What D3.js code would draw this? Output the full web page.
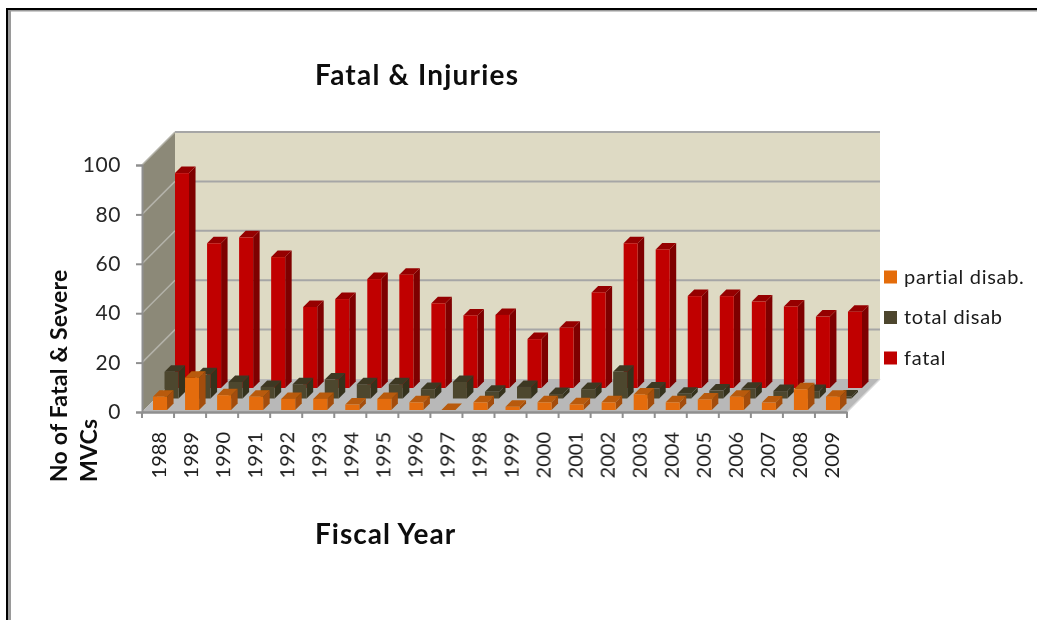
<!DOCTYPE html>
<html><head><meta charset="utf-8">
<script src="https://cdn.jsdelivr.net/npm/d3@7"></script>
<style>html,body{margin:0;padding:0;background:#fff}svg{display:block}text{font-family:Lato,"Open Sans",sans-serif}</style>
</head><body><svg id="c" width="1037" height="620"></svg>
<script>
const years = ["1988","1989","1990","1991","1992","1993","1994","1995","1996","1997","1998","1999","2000","2001","2002","2003","2004","2005","2006","2007","2008","2009"];
const fatal = [87,58.6,61,53,32.8,36,44.1,45.9,34.3,29.4,29.6,19.8,24.4,38.7,58.6,56.1,37.2,37.2,35,33,28.9,30.9];
const totalDisab = [10.8,9.8,6.7,4.7,5.8,7.7,5.8,5.8,3.8,6.7,2.7,4.7,1.8,3.8,10.8,4,1.9,3.2,3.9,3,3,0.8];
const partialDisab = [5.4,13.1,6,5.4,4.5,4.5,2.2,4.5,3.1,0,3.1,1.3,3.1,2.3,3.1,6.3,3.1,4.3,5.4,3,8.4,5.4];
const yTicks = [0,20,40,60,80,100];
const seriesNames = ["partial disab.","total disab","fatal"];
const seriesValues = [partialDisab,totalDisab,fatal];
const faceColors = ["#e46c0a","#4d462e","#c00000"];
const sideColors = ["#a34d07","#36321f","#7e0000"];
const topColors = ["#b85a08","#3e3924","#950000"];

const svg = d3.select("#c");
const defs = svg.append("defs");
defs.append("filter").attr("id","soft").append("feGaussianBlur").attr("stdDeviation",0.4);
defs.append("filter").attr("id","softT").append("feGaussianBlur").attr("stdDeviation",0.3);

const x = d3.scaleBand().domain(years).range([142,847]).paddingInner(0.5625).paddingOuter(0.28125);
const y = d3.scaleLinear().domain([0,100]).range([412,165]);
const wallDepth = 33, barDepth = 6.5;
const rowDepth = d3.scaleOrdinal().domain(seriesNames).range([2,13.5,24]);
const poly = pts => pts.map(p=>p.join(",")).join(" ");

// window frame
svg.append("rect").attr("x",6).attr("y",8).attr("width",1031).attr("height",2).attr("fill","#000");
svg.append("rect").attr("x",6).attr("y",8).attr("width",2).attr("height",612).attr("fill","#000");
svg.append("rect").attr("x",8).attr("y",10).attr("width",1029).attr("height",1.5).attr("fill","#9a9a9a");
svg.append("rect").attr("x",8).attr("y",10).attr("width",3).attr("height",610).attr("fill","#9a9a9a");

const plot = svg.append("g").attr("filter","url(#soft)");
const x0 = x.range()[0], x1 = x.range()[1], y0 = y(0), yT = y(100);

// walls and floor
plot.append("polygon").attr("points",poly([[x0+wallDepth,yT-wallDepth],[x1+wallDepth,yT-wallDepth],[x1+wallDepth,y0-wallDepth],[x0+wallDepth,y0-wallDepth]])).attr("fill","#dedac4");
plot.append("polygon").attr("points",poly([[x0,yT],[x0+wallDepth,yT-wallDepth],[x0+wallDepth,y0-wallDepth],[x0,y0]])).attr("fill","#8c8978");
plot.append("polygon").attr("points",poly([[x0,y0],[x0+wallDepth,y0-wallDepth],[x1+wallDepth,y0-wallDepth],[x1,y0]])).attr("fill","#b8b8b8");
plot.append("line").attr("x1",x1).attr("y1",y0).attr("x2",x1+wallDepth).attr("y2",y0-wallDepth).attr("stroke","#d8d8d8").attr("stroke-width",1.5);

// gridlines
yTicks.slice(1).forEach(t=>{
  plot.append("line").attr("x1",x0+wallDepth).attr("x2",x1+wallDepth).attr("y1",y(t)-wallDepth).attr("y2",y(t)-wallDepth).attr("stroke","#a6a6a6").attr("stroke-width",2);
  plot.append("line").attr("x1",x0).attr("x2",x0+wallDepth).attr("y1",y(t)).attr("y2",y(t)-wallDepth).attr("stroke","#b4b3aa").attr("stroke-width",1.5);
});

// bars, back row first
[2,1,0].forEach(s=>{
  const d0 = rowDepth(seriesNames[s]);
  const g = plot.append("g").attr("class","series");
  seriesValues[s].forEach((v,i)=>{
    const l = x(years[i])+d0, r = l+x.bandwidth(), b = y(0)-d0, t = y(v)-d0;
    g.append("polygon").attr("points",poly([[r,t],[r+barDepth,t-barDepth],[r+barDepth,b-barDepth],[r,b]])).attr("fill",sideColors[s]);
    g.append("polygon").attr("points",poly([[l,t],[l+barDepth,t-barDepth],[r+barDepth,t-barDepth],[r,t]])).attr("fill",topColors[s]);
    g.append("rect").attr("x",l).attr("y",t).attr("width",x.bandwidth()).attr("height",b-t).attr("fill",faceColors[s]);
  });
});

// axes
const yAxis = d3.axisLeft(y).tickValues(yTicks).tickSize(6).tickPadding(15);
const yG = svg.append("g").attr("transform",`translate(${x0},0)`).call(yAxis);
yG.select(".domain").attr("stroke","#8f8f8f").attr("stroke-width",2);
yG.selectAll(".tick line").attr("stroke","#8f8f8f").attr("stroke-width",2);
yG.selectAll("text").attr("font-size",21).attr("letter-spacing",0.6).attr("fill","#262626").attr("font-family","Lato").attr("filter","url(#softT)");

const xAxis = d3.axisBottom(x).tickSize(0).tickPadding(0);
const xG = svg.append("g").attr("transform",`translate(0,${y0})`).call(xAxis);
xG.select(".domain").attr("stroke","#8f8f8f").attr("stroke-width",2.5);
xG.selectAll(".tick line").remove();
xG.selectAll(".tick text").attr("font-size",20).attr("fill","#1a1a1a").attr("font-family","Lato")
  .attr("text-anchor","end").attr("dy",null).attr("dominant-baseline","central")
  .attr("transform","translate(0,20) rotate(-90)").attr("y",0).attr("filter","url(#softT)");
const edge = d3.range(years.length+1).map(i=>x0+i*x.step());
svg.append("g").selectAll("line").data(edge).join("line")
  .attr("x1",d=>d).attr("x2",d=>d).attr("y1",y0).attr("y2",y0+6).attr("stroke","#8f8f8f").attr("stroke-width",2);

// titles
const tg = svg.append("g").attr("fill","#111").attr("font-weight",700).attr("filter","url(#softT)");
tg.append("text").attr("x",315).attr("y",85).attr("font-size",28).attr("letter-spacing",1.2).text("Fatal & Injuries");
tg.append("text").attr("x",315).attr("y",544).attr("font-size",28).attr("letter-spacing",1).text("Fiscal Year");
tg.append("text").attr("transform","translate(66.5,482) rotate(-90)").attr("font-size",23).attr("letter-spacing",0.2).text("No of Fatal & Severe");
tg.append("text").attr("transform","translate(97,482) rotate(-90)").attr("font-size",23).attr("letter-spacing",0.2).text("MVCs");

// legend
const legendY = d3.scalePoint().domain(seriesNames).range([277,358]);
const lg = svg.append("g").selectAll("g").data(seriesNames).join("g").attr("transform",d=>`translate(884,${legendY(d)})`);
lg.append("rect").attr("y",-6.5).attr("width",13).attr("height",13).attr("fill",(d,i)=>faceColors[i]);
lg.append("text").attr("x",20).attr("y",6.5).attr("font-size",20).attr("letter-spacing",0.7).attr("fill","#1a1a1a").attr("filter","url(#softT)").text(d=>d);
</script></body></html>
